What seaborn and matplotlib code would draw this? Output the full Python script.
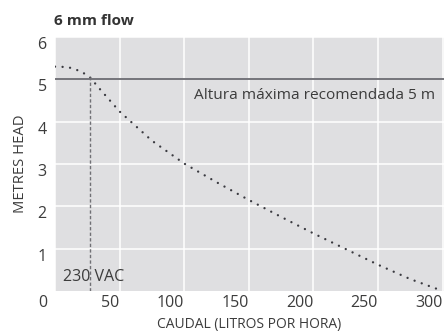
import numpy as np
import pandas as pd
import matplotlib
matplotlib.use("Agg")
import matplotlib.pyplot as plt
import matplotlib.transforms as mtransforms
import seaborn as sns

# Pump curve: flow (litres per hour) vs head (metres)
flow_lph = [0, 10, 20, 27, 35, 50, 75, 100, 125, 150, 175, 200, 225, 250, 275, 300]
head_m = [5.30, 5.29, 5.19, 5.05, 4.76, 4.24, 3.55, 3.01, 2.57, 2.15, 1.75, 1.36, 0.99, 0.62, 0.28, 0.0]

max_head = 5.0          # recommended maximum head
voltage_flow = 27       # flow at the recommended maximum head (230 VAC)
voltage_head = 5.05

x_ticks = [0, 50, 100, 150, 200, 250, 300]
y_ticks = [1, 2, 3, 4, 5, 6]

title = "6 mm flow"
x_label = "CAUDAL (LITROS POR HORA)"
y_label = "METRES HEAD"
limit_label = "Altura máxima recomendada 5 m"
voltage_label = "230 VAC"

df = pd.DataFrame({"flow": flow_lph, "head": head_m})

sns.set_theme(style="darkgrid", rc={
    "axes.facecolor": "#dfdfe1",
    "grid.color": "white",
    "grid.linewidth": 1.1,
})
plt.rcParams["font.family"] = ["Open Sans", "DejaVu Sans"]

text_color = "#3c3c3c"
line_color = "#6a6a70"

fig = plt.figure(figsize=(4.44, 3.31), dpi=100)
ax = fig.add_axes([55 / 444, 40 / 331, 389 / 444, 254 / 331])

sns.lineplot(data=df, x="flow", y="head", ax=ax, color="#3a3a40",
             linewidth=1.7, linestyle=(0, (0.01, 3.2)),
             dash_capstyle="round", solid_capstyle="round")

ax.axhline(max_head, color=line_color, linewidth=1.3, zorder=3)
ax.vlines(voltage_flow, 0, voltage_head, color="#707075", linewidth=1.0,
          linestyles=(0, (2.4, 1.6)), zorder=3)

ax.text(294.5, 4.61, limit_label, ha="right", va="center",
        fontsize=11.1, color=text_color)
ax.text(6.5, 0.33, voltage_label, ha="left", va="center",
        fontsize=11.5, color=text_color)

ax.set_xlim(0, 301)
ax.set_ylim(0, 6)
ax.set_xticks(x_ticks)
ax.set_yticks(y_ticks)
ax.set_xticklabels([str(v) for v in x_ticks])
ax.set_yticklabels([str(v) for v in y_ticks])
ax.tick_params(axis="both", length=0, labelsize=11.5, labelcolor=text_color)
ax.tick_params(axis="x", pad=3)
ax.tick_params(axis="y", pad=6)

for lbl, val in zip(ax.get_xticklabels(), x_ticks):
    lbl.set_horizontalalignment("right")
    dx = -8 if val == 0 else 0
    lbl.set_transform(lbl.get_transform() +
                      mtransforms.ScaledTranslation(dx / 100, 0, fig.dpi_scale_trans))
for lbl in ax.get_yticklabels():
    lbl.set_transform(lbl.get_transform() +
                      mtransforms.ScaledTranslation(0, -6 / 100, fig.dpi_scale_trans))

ax.set_xlabel(x_label, fontsize=10, color=text_color, labelpad=4)
ax.set_ylabel(y_label, fontsize=10.6, color=text_color, labelpad=7)

for s in ax.spines.values():
    s.set_visible(False)

fig.text(54 / 444, 1 - 21 / 331, title, ha="left", va="center",
         fontsize=11, fontweight="bold", color="#333333")

fig.savefig("out.png", dpi=100)
